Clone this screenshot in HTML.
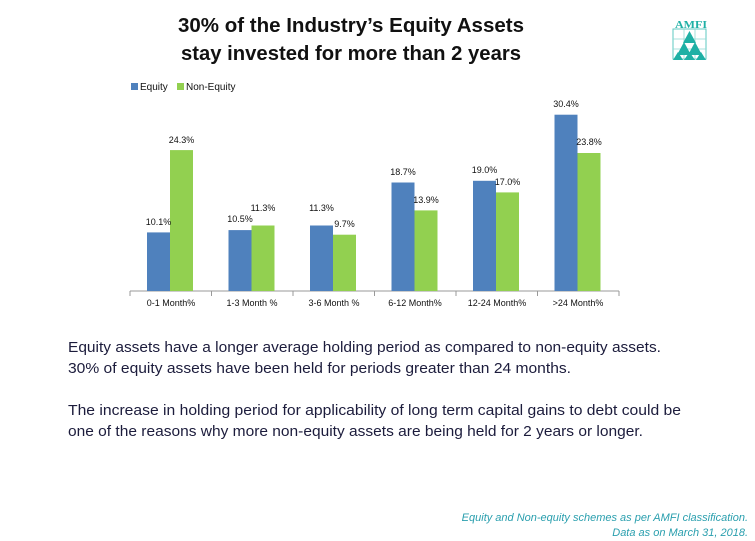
<!DOCTYPE html>
<html><head><meta charset="utf-8"><style>
html,body{margin:0;padding:0;background:#fff;width:755px;height:541px;overflow:hidden}
svg{display:block;font-family:"Liberation Sans",Arial,sans-serif}
</style></head><body>
<svg width="755" height="541" viewBox="0 0 755 541">
<g font-weight="bold" font-size="20" fill="#111" text-anchor="middle">
<text x="351" y="32" textLength="346" lengthAdjust="spacingAndGlyphs">30% of the Industry’s Equity Assets</text>
<text x="351" y="60" textLength="340" lengthAdjust="spacingAndGlyphs">stay invested for more than 2 years</text>
</g>
<!-- logo -->
<g>
<text x="675" y="28" font-family="Liberation Serif,serif" font-weight="bold" font-size="11" fill="#1fb0a5" textLength="32" lengthAdjust="spacingAndGlyphs">AMFI</text>
<rect x="673" y="29" width="33" height="30" fill="none" stroke="#5cc8c0" stroke-width="1"/>
<path d="M673 39H706M673 49H706M684 29V59M695 29V59" stroke="#8fd9d3" stroke-width="0.8"/>
<polygon points="689.5,31 683,43 696,43" fill="#1fb0a5"/>
<polygon points="684,42 677,55 691,55" fill="#1fb0a5"/>
<polygon points="695,42 688,55 702,55" fill="#1fb0a5"/>
<polygon points="678,52 673,60 683,60" fill="#1fb0a5"/>
<polygon points="689.5,52 684,60 695,60" fill="#1fb0a5"/>
<polygon points="701,52 696,60 706,60" fill="#1fb0a5"/>
</g>
<!-- legend -->
<rect x="131" y="83" width="7" height="7" fill="#4f81bd"/>
<text x="140" y="90" font-size="10" fill="#111">Equity</text>
<rect x="177" y="83" width="7" height="7" fill="#92d050"/>
<text x="186" y="90" font-size="10" fill="#111">Non-Equity</text>
<!-- axis -->
<line x1="130" y1="291" x2="619" y2="291" stroke="#999" stroke-width="1"/>
<g stroke="#999" stroke-width="1">
<line x1="130" y1="291" x2="130" y2="296"/><line x1="211.5" y1="291" x2="211.5" y2="296"/>
<line x1="293" y1="291" x2="293" y2="296"/><line x1="374.5" y1="291" x2="374.5" y2="296"/>
<line x1="456" y1="291" x2="456" y2="296"/><line x1="537.5" y1="291" x2="537.5" y2="296"/>
<line x1="619" y1="291" x2="619" y2="296"/>
</g>
<g font-size="9" fill="#111" text-anchor="middle">
<text x="171" y="306">0-1 Month%</text>
<text x="252" y="306">1-3 Month %</text>
<text x="334" y="306">3-6 Month %</text>
<text x="415" y="306">6-12 Month%</text>
<text x="497" y="306">12-24 Month%</text>
<text x="578" y="306">&gt;24 Month%</text>
</g>
<!-- bars: scale 5.8 px/% baseline 291 -->
<g fill="#4f81bd">
<rect x="147" y="232.4" width="23" height="58.6"/>
<rect x="228.5" y="230.1" width="23" height="60.9"/>
<rect x="310" y="225.5" width="23" height="65.5"/>
<rect x="391.5" y="182.5" width="23" height="108.5"/>
<rect x="473" y="180.8" width="23" height="110.2"/>
<rect x="554.5" y="114.7" width="23" height="176.3"/>
</g>
<g fill="#92d050">
<rect x="170" y="150.1" width="23" height="140.9"/>
<rect x="251.5" y="225.5" width="23" height="65.5"/>
<rect x="333" y="234.7" width="23" height="56.3"/>
<rect x="414.5" y="210.4" width="23" height="80.6"/>
<rect x="496" y="192.4" width="23" height="98.6"/>
<rect x="577.5" y="153" width="23" height="138"/>
</g>
<g font-size="9" fill="#111" text-anchor="middle">
<text x="158.5" y="225">10.1%</text><text x="181.5" y="143">24.3%</text>
<text x="240" y="222">10.5%</text><text x="263" y="211">11.3%</text>
<text x="321.5" y="211">11.3%</text><text x="344.5" y="227">9.7%</text>
<text x="403" y="175">18.7%</text><text x="426" y="203">13.9%</text>
<text x="484.5" y="173">19.0%</text><text x="507.5" y="185">17.0%</text>
<text x="566" y="107">30.4%</text><text x="589" y="145">23.8%</text>
</g>
<g font-size="15" fill="#1c1c3c">
<text x="68" y="352" textLength="593" lengthAdjust="spacingAndGlyphs">Equity assets  have a longer average holding period as compared to non-equity assets.</text>
<text x="68" y="373" textLength="503" lengthAdjust="spacingAndGlyphs">30% of equity assets have been held for periods greater than 24 months.</text>
<text x="68" y="415" textLength="613" lengthAdjust="spacingAndGlyphs">The increase in holding period for applicability of long term capital gains to debt could be</text>
<text x="68" y="436" textLength="575" lengthAdjust="spacingAndGlyphs">one of the reasons why more non-equity assets are being held for 2 years or longer.</text>
</g>
<g font-size="11" font-style="italic" fill="#2a9fae" text-anchor="end">
<text x="748" y="521">Equity and Non-equity schemes as per AMFI classification.</text>
<text x="748" y="536">Data as on March  31, 2018.</text>
</g>
</svg>
</body></html>
